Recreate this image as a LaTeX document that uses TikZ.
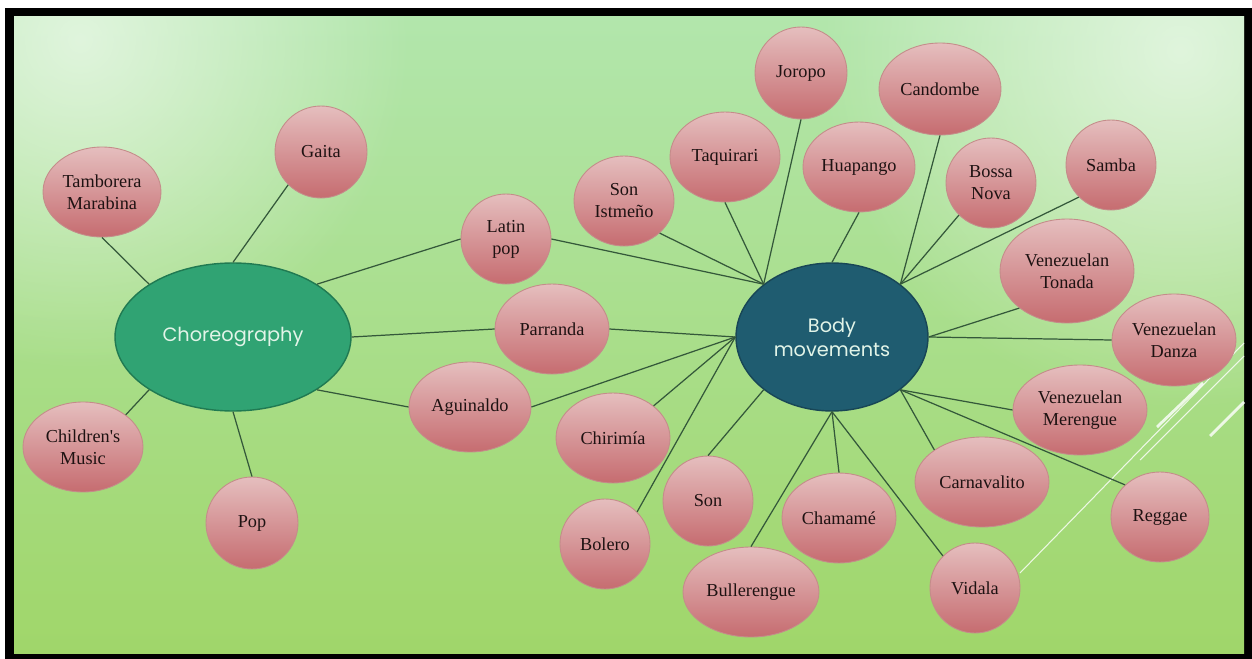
\documentclass[tikz,border=0pt]{standalone}
\usepackage{fontspec}
\setmainfont{Liberation Serif}
\newfontfamily\hubfont{Poppins}
\definecolor{pinktop}{RGB}{229,190,190}
\definecolor{pinkmid}{RGB}{220,164,165}
\definecolor{pinkbot}{RGB}{198,108,112}
\definecolor{pinkedge}{RGB}{196,140,138}
\definecolor{genretext}{RGB}{30,18,18}
\definecolor{chorgreen}{RGB}{48,163,115}
\definecolor{choredge}{RGB}{32,122,82}
\definecolor{bodyteal}{RGB}{31,92,112}
\definecolor{bodyedge}{RGB}{24,70,86}
\definecolor{hubtext}{RGB}{226,244,232}
\definecolor{wire}{RGB}{52,88,58}
\definecolor{bgtop}{RGB}{178,230,172}
\definecolor{bgmid}{RGB}{166,222,145}
\definecolor{bgbot}{RGB}{160,214,106}
\usetikzlibrary{shapes.geometric, fadings}
\tikzfading[name=softglow, inner color=transparent!0, outer color=transparent!100]

\begin{document}
\begin{tikzpicture}[x=0.02cm, y=-0.02cm,
        genre/.style={ellipse, draw=pinkedge, line width=0.5pt, top color=pinktop, middle color=pinkmid, bottom color=pinkbot,
          inner sep=0pt, align=center, text=genretext, font=\fontsize{10.4}{12.5}\selectfont,
          minimum width=1.8cm, minimum height=1.8cm},
        hub/.style={ellipse, line width=0.8pt, inner sep=0pt, align=center, text=hubtext,
          font=\hubfont\fontsize{11}{13.7}\selectfont},
        wire/.style={draw=wire, line width=0.7pt},
        deco/.style={draw=white, opacity=0.8, line width=0.6pt},
        glow/.style={fill=white, opacity=0.6, path fading=softglow}
      ]
        % frame and background
        \useasboundingbox (0,0) rectangle (1252,659);
        \fill[white] (0,0) rectangle (1252,659);
        \fill[black] (5,8) rectangle (1252,659);
        \begin{scope}
          \clip (14,16) rectangle (1244,653);
          \fill[top color=bgtop, middle color=bgmid, bottom color=bgbot] (14,16) rectangle (1244,653);
          \fill[glow] (80,40) circle (330);
          \fill[glow] (1180,50) circle (360);
        \end{scope}
        \draw[deco] (1020,573) -- (1244,343);
        \draw[deco] (1140,460) -- (1244,356);
        \draw[deco, line width=1.6pt] (1157,427) -- (1203,383);
        \draw[deco, line width=1.6pt] (1210,436) -- (1244,402);

        % hubs
        \node[hub, fill=chorgreen, draw=choredge, minimum width=4.72cm, minimum height=2.96cm] (chor) at (233,337) {Choreography};
        \node[hub, fill=bodyteal, draw=bodyedge, minimum width=3.84cm, minimum height=2.96cm] (body) at (832,337) {Body\\movements};

        % choreography side
        \node[genre, minimum width=2.36cm] (tamb)  at (102,192) {Tamborera\\Marabina};
        \node[genre, minimum width=1.84cm, minimum height=1.84cm] (gaita) at (321,152) {Gaita};
        \node[genre, minimum width=2.4cm]  (child) at (83,447)  {Children\textquotesingle s\\Music};
        \node[genre, minimum width=1.84cm, minimum height=1.84cm] (pop) at (252,523) {Pop};
        \node[genre] (latin) at (506,239) {Latin\\pop};
        \node[genre, minimum width=2.28cm] (parr) at (552,329) {Parranda};
        \node[genre, minimum width=2.44cm] (agui) at (470,407) {Aguinaldo};

        % body movements side
        \node[genre, minimum width=2cm]    (istmo)  at (624,201)  {Son\\Istmeño};
        \node[genre, minimum width=2.2cm]  (taqui)  at (725,157)  {Taquirari};
        \node[genre, minimum width=1.84cm, minimum height=1.84cm] (joropo) at (801,73) {Joropo};
        \node[genre, minimum width=2.24cm] (huapa)  at (859,167)  {Huapango};
        \node[genre, minimum width=2.44cm, minimum height=1.84cm] (candom) at (940,89) {Candombe};
        \node[genre]                       (bossa)  at (991,183)  {Bossa\\Nova};
        \node[genre]                       (samba)  at (1111,165) {Samba};
        \node[genre, minimum width=2.68cm, minimum height=2.08cm] (tonada) at (1067,271) {Venezuelan\\Tonada};
        \node[genre, minimum width=2.48cm, minimum height=1.84cm] (danza) at (1174,340) {Venezuelan\\Danza};
        \node[genre, minimum width=2.68cm] (meren)  at (1080,410) {Venezuelan\\Merengue};
        \node[genre, minimum width=2.68cm] (carna)  at (982,482)  {Carnavalito};
        \node[genre, minimum width=1.96cm] (reggae) at (1160,517) {Reggae};
        \node[genre]                       (vidala) at (975,588)  {Vidala};
        \node[genre, minimum width=2.28cm] (chama)  at (839,518)  {Chamamé};
        \node[genre, minimum width=2.72cm] (buller) at (751,592)  {Bullerengue};
        \node[genre]                       (son)    at (708,501)  {Son};
        \node[genre]                       (bolero) at (605,544)  {Bolero};
        \node[genre, minimum width=2.28cm] (chiri)  at (613,438)  {Chirimía};

        % connectors
        \draw[wire] (chor.north west) -- (tamb.south);
        \draw[wire] (chor.north) -- (gaita.south west);
        \draw[wire] (chor.north east) -- (latin.west);
        \draw[wire] (chor.east) -- (parr.west);
        \draw[wire] (chor.south east) -- (agui.west);
        \draw[wire] (chor.south west) -- (child.north east);
        \draw[wire] (chor.south) -- (pop.north);
        \draw[wire] (body.north west) -- (latin.east);
        \draw[wire] (body.north west) -- (istmo.south east);
        \draw[wire] (body.north west) -- (taqui.south);
        \draw[wire] (body.north west) -- (joropo.south);
        \draw[wire] (body.north) -- (huapa.south);
        \draw[wire] (body.north east) -- (candom.south);
        \draw[wire] (body.north east) -- (bossa.south west);
        \draw[wire] (body.north east) -- (samba.south west);
        \draw[wire] (body.east) -- (tonada.south west);
        \draw[wire] (body.east) -- (danza.west);
        \draw[wire] (body.south east) -- (meren.west);
        \draw[wire] (body.south east) -- (carna.north west);
        \draw[wire] (body.south east) -- (reggae.north west);
        \draw[wire] (body.south) -- (vidala.north west);
        \draw[wire] (body.south) -- (chama.north);
        \draw[wire] (body.south) -- (buller.north);
        \draw[wire] (body.south west) -- (son.north);
        \draw[wire] (body.west) -- (bolero.north east);
        \draw[wire] (body.west) -- (chiri.north east);
        \draw[wire] (body.west) -- (agui.east);
        \draw[wire] (body.west) -- (parr.east);
      \end{tikzpicture}
\end{document}
